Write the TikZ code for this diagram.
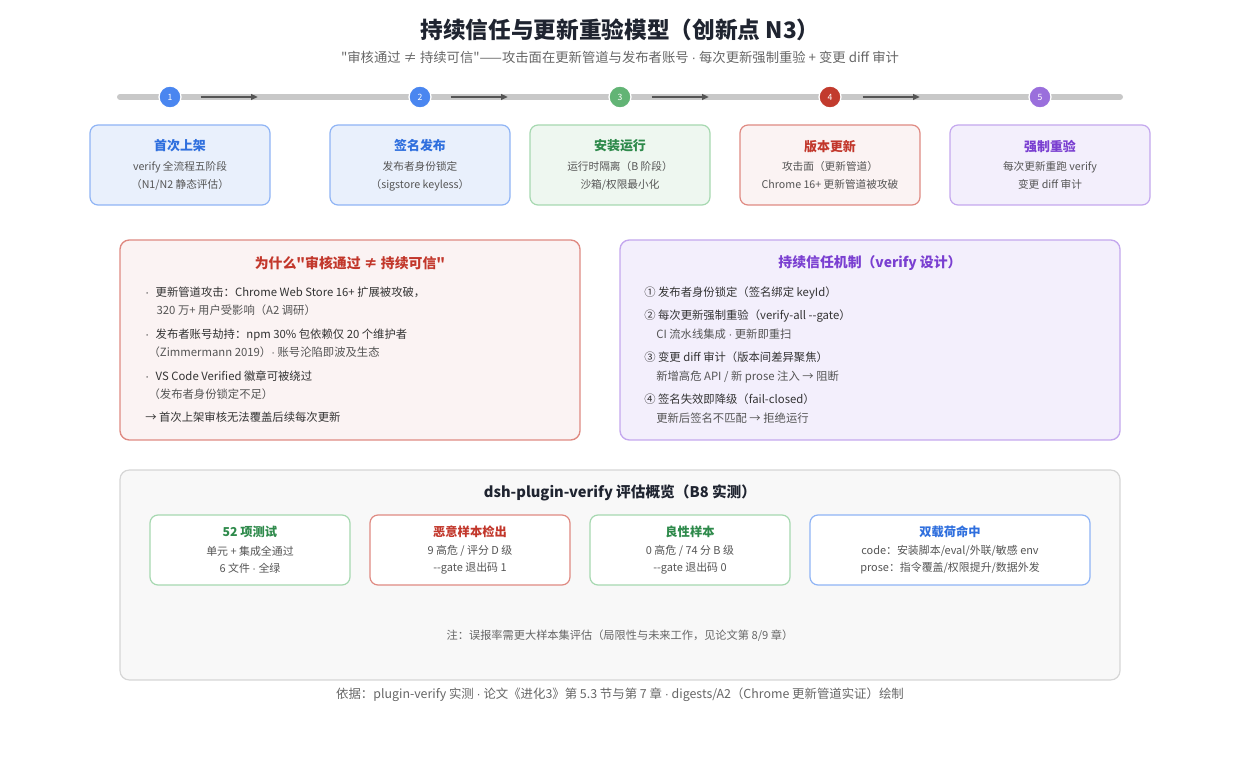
\documentclass[tikz,border=0pt]{standalone}
\usepackage{fontspec}
\setmainfont{Noto Sans CJK SC}[Ligatures=TeXOff]
\newfontfamily\latinf{Liberation Sans}
\usepackage{tikz}
\usetikzlibrary{shapes,arrows.meta,calc}

\definecolor{titlec}{HTML}{1F2430}
\definecolor{subgray}{HTML}{666666}
\definecolor{txtdark}{HTML}{333333}
\definecolor{txtgray}{HTML}{555555}
\definecolor{barc}{HTML}{C8C8C8}
\definecolor{arrc}{HTML}{555555}
\definecolor{bluedot}{HTML}{4A86F0}
\definecolor{bluefill}{HTML}{E9F0FC}
\definecolor{blueline}{HTML}{8FB4F5}
\definecolor{bluet}{HTML}{2F6FDE}
\definecolor{greendot}{HTML}{62B475}
\definecolor{greenfill}{HTML}{EEF7F0}
\definecolor{greenline}{HTML}{A6D8B0}
\definecolor{greent}{HTML}{2E8A4B}
\definecolor{reddot}{HTML}{C23B2E}
\definecolor{redfill}{HTML}{FBF3F3}
\definecolor{redline}{HTML}{DF8A82}
\definecolor{redt}{HTML}{C2372B}
\definecolor{purpledot}{HTML}{9A6FDC}
\definecolor{purplefill}{HTML}{F3EFFC}
\definecolor{purpleline}{HTML}{C4A8EE}
\definecolor{purplet}{HTML}{7A3FD1}
\definecolor{panelfill}{HTML}{F8F8F8}
\definecolor{panelline}{HTML}{D6D6D6}

\newcommand{\dashdash}{-\kern0pt-}
\newcommand{\mdot}{{\latinf\textperiodcentered}}

\begin{document}
\begin{tikzpicture}[x=0.75pt, y=-0.75pt, >={Triangle[length=5pt,width=4.5pt]},
    stepdot/.style={circle, minimum size=16.5pt, inner sep=0pt, draw=white, line width=1pt, text=white, font=\fontsize{6.5}{7}\selectfont},
    stage/.style={rounded corners=6pt, line width=0.9pt, minimum width=135pt, minimum height=60pt, align=center, text=txtgray, font=\fontsize{8}{13.5}\selectfont},
    bigbox/.style={rounded corners=7pt, line width=1pt, minimum width=345pt, minimum height=150pt},
    lines/.style={anchor=north west, inner sep=0pt, align=left, text=txtdark, font=\fontsize{8.5}{14}\selectfont},
    small/.style={rounded corners=6pt, line width=0.9pt, fill=white, minimum width=150pt, minimum height=52.5pt, align=center, text=txtgray, font=\fontsize{8.2}{12.8}\selectfont}]

\useasboundingbox (0,0) rectangle (1240,780);

% title
\draw
    node at(620,30)[text=titlec,font=\fontsize{17}{20}\selectfont\bfseries,name=title]{持续信任与更新重验模型（创新点 N3）}
    node at(620,57)[text=subgray,font=\fontsize{10}{12}\selectfont,name=subtitle]{"审核通过 ≠ 持续可信"——攻击面在更新管道与发布者账号 \mdot{} 每次更新强制重验 + 变更 diff 审计}
;

% timeline
\coordinate (tlstart) at (120,97);
\coordinate (tlend) at (1120,97);
\draw[barc, line width=4.5pt, line cap=round](tlstart) -- (tlend);

\draw
    node at(170,97)[stepdot,fill=bluedot,name=c1]{1}
    node at(420,97)[stepdot,fill=bluedot,name=c2]{2}
    node at(620,97)[stepdot,fill=greendot,name=c3]{3}
    node at(830,97)[stepdot,fill=reddot,name=c4]{4}
    node at(1040,97)[stepdot,fill=purpledot,name=c5]{5}
;
\draw[->,arrc,line width=1.1pt]($(c1.east)+(19,0)$) -- ++(57,0);
\draw[->,arrc,line width=1.1pt]($(c2.east)+(19,0)$) -- ++(57,0);
\draw[->,arrc,line width=1.1pt]($(c3.east)+(20,0)$) -- ++(57,0);
\draw[->,arrc,line width=1.1pt]($(c4.east)+(21,0)$) -- ++(57,0);

% stage boxes
\draw
    node at(180,165)[stage,fill=bluefill,draw=blueline,name=s1]{{\color{bluet}\bfseries\fontsize{9.7}{13.5}\selectfont 首次上架}\\[1.2pt] verify 全流程五阶段\\（N1/N2 静态评估）}
    node at(420,165)[stage,fill=bluefill,draw=blueline,name=s2]{{\color{bluet}\bfseries\fontsize{9.7}{13.5}\selectfont 签名发布}\\[1.2pt] 发布者身份锁定\\（sigstore keyless）}
    node at(620,165)[stage,fill=greenfill,draw=greenline,name=s3]{{\color{greent}\bfseries\fontsize{9.7}{13.5}\selectfont 安装运行}\\[1.2pt] 运行时隔离（B 阶段）\\沙箱/权限最小化}
    node at(830,165)[stage,fill=redfill,draw=redline,name=s4]{{\color{redt}\bfseries\fontsize{9.7}{13.5}\selectfont 版本更新}\\[1.2pt] 攻击面（更新管道）\\Chrome 16+ 更新管道被攻破}
    node at(1050,165)[stage,minimum width=150pt,fill=purplefill,draw=purpleline,name=s5]{{\color{purplet}\bfseries\fontsize{9.7}{13.5}\selectfont 强制重验}\\[1.2pt] 每次更新重跑 verify\\变更 diff 审计}
;

% why / mechanism
\draw
    node at(350,340)[bigbox,fill=redfill,draw=redline,name=why]{}
    node at(870,340)[bigbox,minimum width=375pt,fill=purplefill,draw=purpleline,name=mech]{}
    node at(350,263)[text=redt,font=\fontsize{10.4}{12}\selectfont\bfseries,name=whytitle]{为什么"审核通过 ≠ 持续可信"}
    node at(870,263)[text=purplet,font=\fontsize{10.4}{12}\selectfont\bfseries,name=mechtitle]{持续信任机制（verify 设计）}
    node at(145,286.5)[lines,name=whytext]{\mdot\hspace{5pt}更新管道攻击：Chrome Web Store 16+ 扩展被攻破，\\
        \hspace{8.5pt}{\color{txtgray}320 万+ 用户受影响（A2 调研）}\\[3.4pt]
        \mdot\hspace{5pt}发布者账号劫持：npm 30\% 包依赖仅 20 个维护者\\
        \hspace{2.5pt}{\color{txtgray}（Zimmermann 2019）\mdot{} 账号沦陷即波及生态}\\[3.4pt]
        \mdot\hspace{5pt}VS Code Verified 徽章可被绕过\\
        \hspace{2.5pt}{\color{txtgray}（发布者身份锁定不足）}\\[3.4pt]
        → 首次上架审核无法覆盖后续每次更新}
    node at(644,286.5)[lines,name=mechtext]{① 发布者身份锁定（签名绑定 keyId）\\[3.4pt]
        ② 每次更新强制重验（verify-all \dashdash gate）\\
        \hspace{9pt}{\color{txtgray}CI 流水线集成 \mdot{} 更新即重扫}\\[3.4pt]
        ③ 变更 diff 审计（版本间差异聚焦）\\
        \hspace{9pt}{\color{txtgray}新增高危 API / 新 prose 注入 → 阻断}\\[3.4pt]
        ④ 签名失效即降级（fail-closed）\\
        \hspace{9pt}{\color{txtgray}更新后签名不匹配 → 拒绝运行}}
;

% evaluation panel
\draw
    node at(620,575)[rounded corners=7pt,line width=0.9pt,fill=panelfill,draw=panelline,minimum width=750pt,minimum height=157.5pt,name=panel]{}
    node at(620,493)[text=titlec,font=\fontsize{11}{13}\selectfont\bfseries,name=paneltitle]{dsh-plugin-verify 评估概览（B8 实测）}
    node at(250,550)[small,draw=greenline,name=e1]{{\color{greent}\bfseries\fontsize{9.2}{12.8}\selectfont 52 项测试}\\[1.2pt] 单元 + 集成全通过\\6 文件 \mdot{} 全绿}
    node at(470,550)[small,draw=redline,name=e2]{{\color{redt}\bfseries\fontsize{9.2}{12.8}\selectfont 恶意样本检出}\\[1.2pt] 9 高危 / 评分 D 级\\\dashdash gate 退出码 1}
    node at(690,550)[small,draw=greenline,name=e3]{{\color{greent}\bfseries\fontsize{9.2}{12.8}\selectfont 良性样本}\\[1.2pt] 0 高危 / 74 分 B 级\\\dashdash gate 退出码 0}
    node at(950,550)[small,minimum width=210pt,draw=blueline,name=e4]{{\color{bluet}\bfseries\fontsize{9.2}{12.8}\selectfont 双载荷命中}\\[1.2pt] code：安装脚本/eval/外联/敏感 env\\prose：指令覆盖/权限提升/数据外发}
    node at(620,636)[text=subgray,font=\fontsize{8.4}{10}\selectfont,name=note]{注：误报率需更大样本集评估（局限性与未来工作，见论文第 8/9 章）}
;

% source line
\draw
    node at(620,695)[text=subgray,font=\fontsize{9.3}{11}\selectfont,name=source]{依据：plugin-verify 实测 \mdot{} 论文《进化3》第 5.3 节与第 7 章 \mdot{} digests/A2（Chrome 更新管道实证）绘制}
;

\end{tikzpicture}
\end{document}
